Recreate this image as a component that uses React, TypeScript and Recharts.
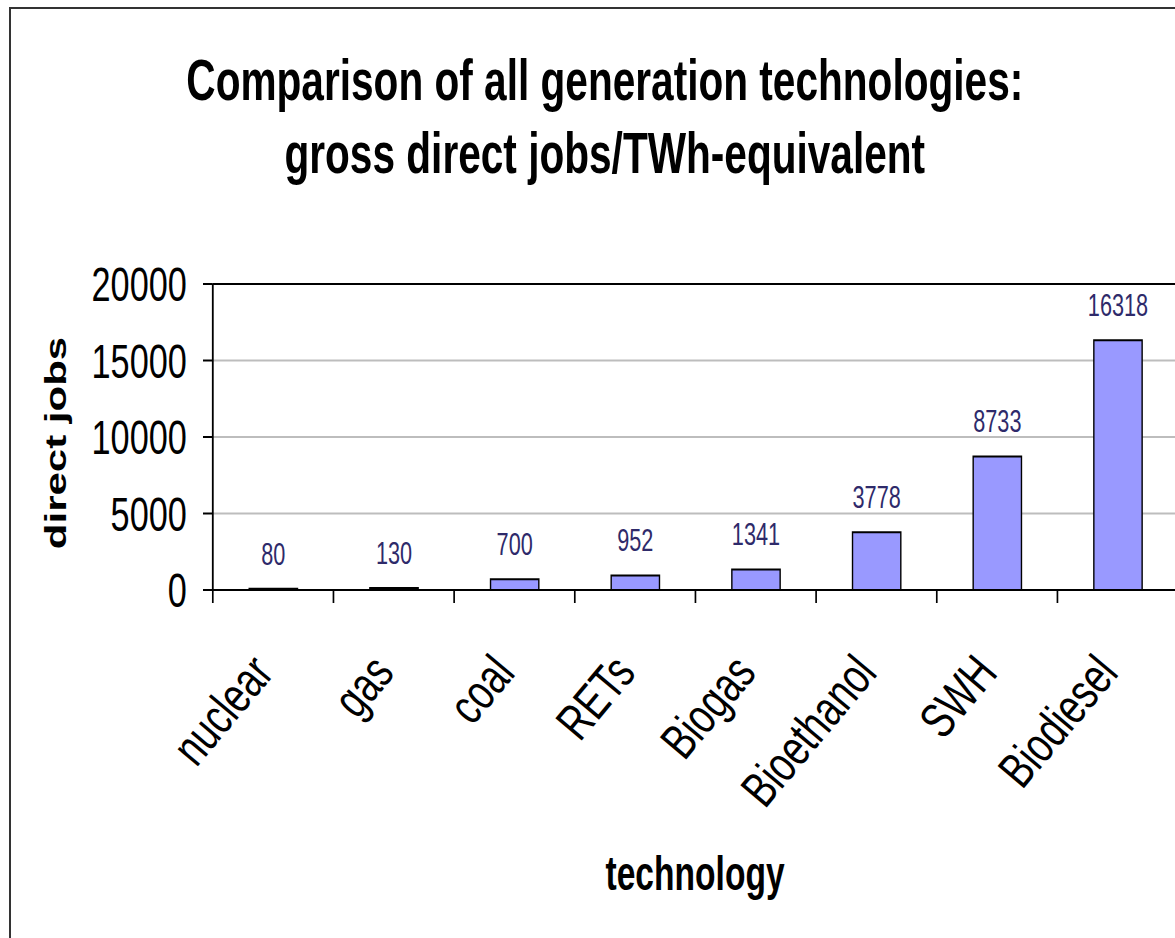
import React from "react";
import {
  BarChart,
  Bar,
  XAxis,
  YAxis,
  CartesianGrid,
  ReferenceLine,
  LabelList,
} from "recharts";

// the source picture is squeezed sideways, so the chart is laid out wide and scaled in x
const SQUEEZE = 0.7;
const CHART_W = 1720;
const CHART_H = 938;
const PLOT_TOP = 284;
const PLOT_BOTTOM = 590;
const Y_AXIS_W = 304;
const RIGHT_PAD = 37;

const technologies = ["nuclear", "gas", "coal", "RETs", "Biogas", "Bioethanol", "SWH", "Biodiesel"];
const directJobs = [80, 130, 700, 952, 1341, 3778, 8733, 16318];
const yTicks = [0, 5000, 10000, 15000, 20000];

const data = technologies.map((tech, i) => ({ tech, jobs: directJobs[i] }));

const BAND = (CHART_W - RIGHT_PAD - Y_AXIS_W) / technologies.length;
const FONT = "'Liberation Sans', Arial, Helvetica, sans-serif";

// rotated labels: narrow glyphs, upright to their own baseline, ~50deg on screen
const LABEL_ANGLE = (50 * Math.PI) / 180;
const LABEL_NARROW = 0.75;
const ma = (Math.cos(LABEL_ANGLE) * LABEL_NARROW) / SQUEEZE;
const mb = -Math.sin(LABEL_ANGLE) * LABEL_NARROW;
const mc = Math.sin(LABEL_ANGLE) / SQUEEZE;
const md = Math.cos(LABEL_ANGLE);

function CategoryTick(props: any) {
  const { x, payload } = props;
  const half = payload && payload.offset ? payload.offset : BAND / 2;
  const tx = x + 3;
  const ty = PLOT_BOTTOM + 84;
  return (
    <g>
      <line x1={x - half} x2={x - half} y1={PLOT_BOTTOM} y2={PLOT_BOTTOM + 13} stroke="#000" strokeWidth={2.4} />
      <text
        x={0}
        y={0}
        textAnchor="end"
        transform={`matrix(${ma} ${mb} ${mc} ${md} ${tx} ${ty})`}
        fontSize={50}
        fill="#000"
      >
        {payload.value}
      </text>
    </g>
  );
}

export default function App() {
  return (
    <div
      style={{
        position: "fixed",
        left: 0,
        top: 0,
        width: 1175,
        height: 938,
        overflow: "hidden",
        background: "#fff",
        fontFamily: FONT,
      }}
    >
      <div
        style={{
          position: "absolute",
          left: 0,
          top: 0,
          width: CHART_W,
          height: CHART_H,
          transform: `scaleX(${SQUEEZE})`,
          transformOrigin: "0 0",
        }}
      >
        <div
          style={{
            position: "absolute",
            left: 0,
            top: 43,
            width: 1728,
            textAlign: "center",
            fontSize: 58,
            fontWeight: "bold",
            lineHeight: "73px",
            color: "#000",
          }}
        >
          Comparison of all generation technologies:
          <br />
          gross direct jobs/TWh-equivalent
        </div>
        <BarChart
          width={CHART_W}
          height={CHART_H}
          data={data}
          margin={{ top: PLOT_TOP, right: RIGHT_PAD, bottom: 0, left: 0 }}
          style={{ fontFamily: FONT }}
        >
          <CartesianGrid vertical={false} stroke="#bdbdbd" strokeWidth={2} />
          <XAxis
            dataKey="tech"
            height={CHART_H - PLOT_BOTTOM}
            interval={0}
            tickLine={false}
            axisLine={{ stroke: "#000", strokeWidth: 2 }}
            tick={<CategoryTick />}
            label={{
              content: () => (
                <text x={993} y={890} textAnchor="middle" fontSize={48} fontWeight="bold" fill="#000">
                  technology
                </text>
              ),
            }}
          />
          <YAxis
            width={Y_AXIS_W}
            domain={[0, 20000]}
            ticks={yTicks}
            interval={0}
            tickSize={14}
            tickMargin={23}
            tick={{ fill: "#000", fontSize: 49 }}
            tickLine={{ stroke: "#000", strokeWidth: 2 }}
            axisLine={{ stroke: "#000", strokeWidth: 2.6 }}
            label={{
              content: () => (
                <text
                  x={0}
                  y={0}
                  transform="translate(94, 443) rotate(-90)"
                  textAnchor="middle"
                  fontSize={42}
                  fontWeight="bold"
                  fill="#000"
                >
                  direct jobs
                </text>
              ),
            }}
          />
          <ReferenceLine y={20000} stroke="#000" strokeWidth={2} />
          <Bar dataKey="jobs" barSize={69} fill="#9999ff" stroke="#000" strokeWidth={2} isAnimationActive={false}>
            <LabelList dataKey="jobs" position="top" offset={24} fill="#2e2a6a" fontSize={31} />
          </Bar>
        </BarChart>
      </div>
      <div
        style={{
          position: "absolute",
          left: 9,
          top: 7,
          width: 1400,
          height: 1100,
          border: "2px solid #333",
          pointerEvents: "none",
        }}
      />
    </div>
  );
}
